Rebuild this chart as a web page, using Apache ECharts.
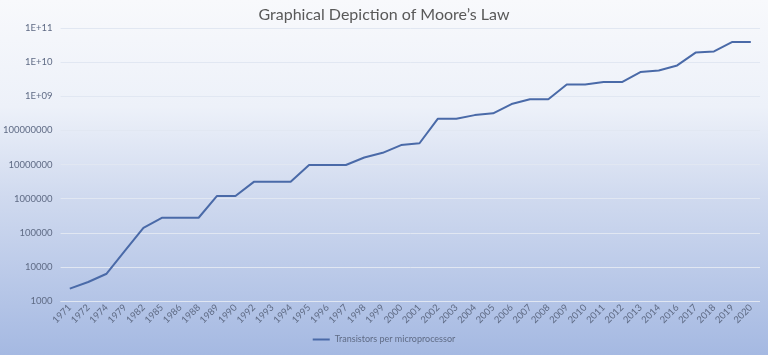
<!DOCTYPE html>
<html>
<head>
<meta charset="utf-8">
<script src="https://cdn.jsdelivr.net/npm/echarts@6/dist/echarts.min.js"></script>
<style>html,body{margin:0;padding:0;}#c{width:768px;height:355px;}</style>
</head>
<body>
<div id="c"></div>
<script>
var years = ['1971','1972','1974','1979','1982','1985','1986','1988','1989','1990','1992','1993','1994','1995','1996','1997','1998','1999','2000','2001','2002','2003','2004','2005','2006','2007','2008','2009','2010','2011','2012','2013','2014','2016','2017','2018','2019','2020'];
var transistors = [2300, 3600, 6300, 30000, 140000, 275000, 275000, 275000, 1200000, 1200000, 3100000, 3100000, 3100000, 9700000, 9700000, 9700000, 16000000, 22000000, 37000000, 42000000, 220000000, 220000000, 280000000, 315000000, 590000000, 820000000, 820000000, 2200000000, 2200000000, 2600000000, 2600000000, 5100000000, 5700000000, 8000000000, 19000000000, 20500000000, 39000000000, 39000000000];
var yTicks = [1000, 10000, 100000, 1000000, 10000000, 100000000, 1e9, 1e10, 1e11];
var seriesName = 'Transistors per microprocessor';
var titleText = 'Graphical Depiction of Moore\u2019s Law';

function fmt(v) {
  var e = Math.round(Math.log10(v));
  if (e >= 9) return '1E+' + (e < 10 ? '0' + e : e);
  return String(Math.round(v));
}

var chart = echarts.init(document.getElementById('c'));
chart.setOption({
  animation: false,
  backgroundColor: {
    type: 'linear', x: 0, y: 0, x2: 0, y2: 1,
    colorStops: [
      {offset: 0, color: '#f8f9fc'},
      {offset: 0.3, color: '#edf1f9'},
      {offset: 0.55, color: '#d0daef'},
      {offset: 1, color: '#a5b9e2'}
    ]
  },
  title: {
    text: titleText,
    left: 'center',
    top: 2,
    textStyle: {fontFamily: 'Lato', fontSize: 16, fontWeight: 'normal', color: '#595959'}
  },
  legend: {
    bottom: 6,
    left: 'center',
    itemWidth: 17,
    itemHeight: 2,
    icon: 'rect',
    textStyle: {fontFamily: 'Lato', fontSize: 9, color: '#5f6b85'},
    data: [seriesName]
  },
  grid: {left: 58, right: 8, top: 28, bottom: 54},
  xAxis: {
    type: 'category',
    data: years,
    boundaryGap: true,
    axisLine: {show: false},
    axisTick: {show: false},
    axisLabel: {interval: 0, rotate: 45, fontFamily: 'Lato', fontSize: 9.5, color: '#5f6b85', margin: 5}
  },
  yAxis: {
    type: 'log',
    logBase: 10,
    min: 1000,
    max: 1e11,
    axisLine: {show: false},
    axisTick: {show: false},
    splitLine: {lineStyle: {color: '#e1e7f2', width: 1}},
    axisLabel: {fontFamily: 'Lato', fontSize: 9.5, color: '#5f6b85', margin: 8, formatter: fmt}
  },
  series: [{
    name: seriesName,
    type: 'line',
    data: transistors,
    symbol: 'none',
    lineStyle: {color: '#4a6aa8', width: 2},
    itemStyle: {color: '#4a6aa8'}
  }]
});
</script>
</body>
</html>
